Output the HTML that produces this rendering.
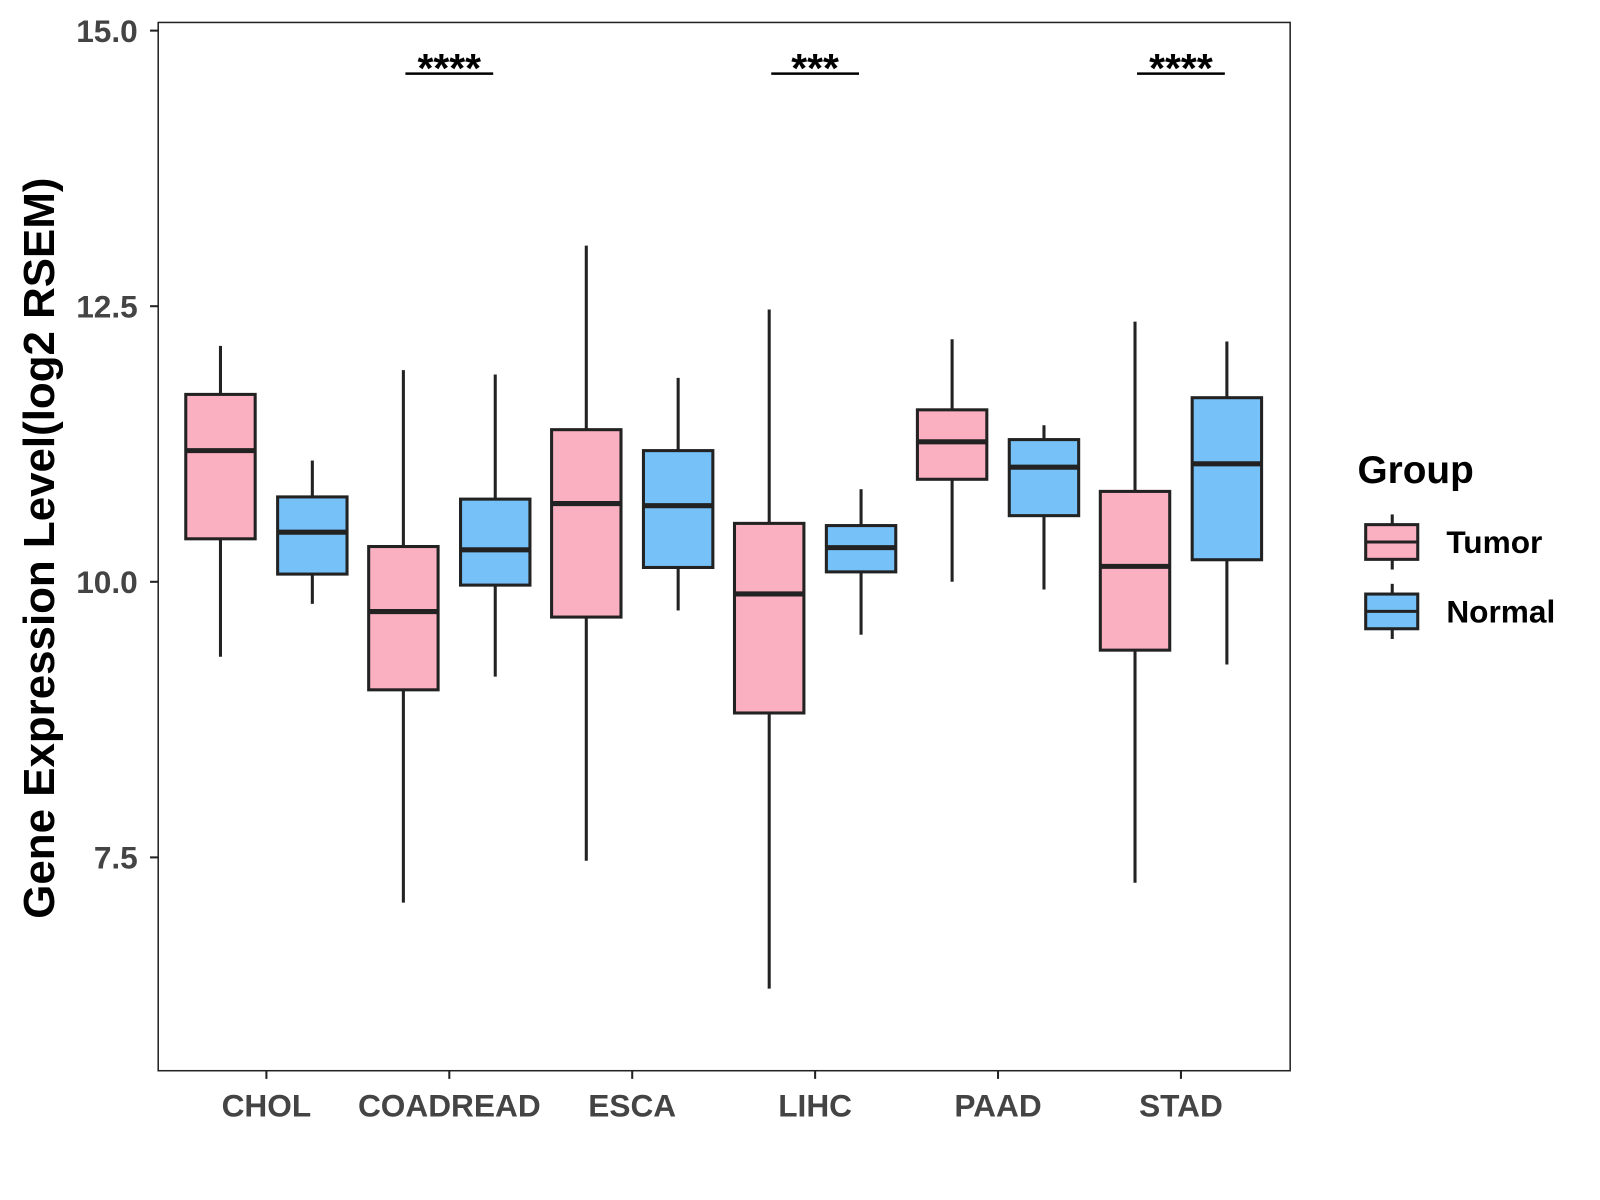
<!DOCTYPE html>
<html><head><meta charset="utf-8"><style>
html,body{margin:0;padding:0;background:#fff;}
svg{display:block;font-family:"Liberation Sans",Arial,sans-serif;}
</style></head><body>
<svg id="chart" width="1600" height="1200" viewBox="0 0 1600 1200">
<g id="root" transform="scale(1.0207)"></g>
</svg>
<script>
const categories = ["CHOL","COADREAD","ESCA","LIHC","PAAD","STAD"];
const groups = ["Tumor","Normal"];
// [lowWhisker, Q1, median, Q3, highWhisker]
const tumorStats = [
  [9.32,10.39,11.19,11.70,12.14],
  [7.09,9.02,9.73,10.32,11.92],
  [7.47,9.68,10.71,11.38,13.05],
  [6.31,8.81,9.89,10.53,12.47],
  [10.0,10.93,11.27,11.56,12.20],
  [7.27,9.38,10.14,10.82,12.36]
];
const normalStats = [
  [9.80,10.07,10.45,10.77,11.10],
  [9.14,9.97,10.29,10.75,11.88],
  [9.74,10.13,10.69,11.19,11.85],
  [9.52,10.09,10.31,10.51,10.84],
  [9.93,10.60,11.04,11.29,11.42],
  [9.25,10.20,11.07,11.67,12.18]
];
const yTicks = [7.5,10.0,12.5,15.0];
const yTickLabels = ["7.5","10.0","12.5","15.0"];
const sigCategories = ["COADREAD","LIHC","STAD"];
const sigLabels = ["****","***","****"];
const sigLevel = 14.61;

const NS="http://www.w3.org/2000/svg";
const root=document.getElementById('root');
const L=155,R=1264,T=22,B=1049;
function y(v){return 30+(15-v)*108;}
function x(i){return 261+i*179.2;}
function el(tag,attrs,parent){const e=document.createElementNS(NS,tag);for(const k in attrs)e.setAttribute(k,attrs[k]);(parent||root).appendChild(e);return e;}

const panel=el('rect',{x:L,y:T,width:R-L,height:B-T,fill:'#fff',stroke:'#222','stroke-width':1.5});



yTicks.forEach((t,i)=>{
  const tk=el('line',{x1:L-8,x2:L,y1:y(t),y2:y(t),stroke:'#222','stroke-width':2});
  
  
  const tx=el('text',{x:L-20,y:y(t)+11,'text-anchor':'end','font-size':31,'font-weight':'bold',fill:'#444'});
  tx.textContent=yTickLabels[i];
  
  
});
categories.forEach((c,i)=>{
  const tk=el('line',{x1:x(i),x2:x(i),y1:B,y2:B+8,stroke:'#222','stroke-width':2});
  
  
  const tx=el('text',{x:x(i),y:B+45,'text-anchor':'middle','font-size':31,'font-weight':'bold',fill:'#444'});
  tx.textContent=c;
  
  
});

const yt=el('text',{transform:'translate(53,537) rotate(-90)','text-anchor':'middle','font-size':43,'font-weight':'bold',fill:'#000'});
yt.textContent='Gene Expression Level(log2 RSEM)';



function drawBox(cx,s,fill,name){
  const g=el('g',{});
  
  
  const w=34;
  el('line',{x1:cx,x2:cx,y1:y(s[4]),y2:y(s[3]),stroke:'#222','stroke-width':3},g);
  el('line',{x1:cx,x2:cx,y1:y(s[1]),y2:y(s[0]),stroke:'#222','stroke-width':3},g);
  el('rect',{x:cx-w,y:y(s[3]),width:2*w,height:y(s[1])-y(s[3]),fill:fill,stroke:'#222','stroke-width':3},g);
  el('line',{x1:cx-w,x2:cx+w,y1:y(s[2]),y2:y(s[2]),stroke:'#222','stroke-width':5},g);
}
categories.forEach((c,i)=>{
  drawBox(x(i)-45,tumorStats[i],'#FBB0C1','box-tumor-'+c.toLowerCase());
  drawBox(x(i)+45,normalStats[i],'#76C1F8','box-normal-'+c.toLowerCase());
});

sigCategories.forEach((c,k)=>{
  const i=categories.indexOf(c);
  const ln=el('line',{x1:x(i)-43,x2:x(i)+43,y1:y(sigLevel),y2:y(sigLevel),stroke:'#000','stroke-width':2.5});
  
  
  const tx=el('text',{x:x(i),y:y(sigLevel)+8,'text-anchor':'middle','font-size':40,'font-weight':'bold',fill:'#000'});
  tx.textContent=sigLabels[k];
  
  
});

const lg=el('g',{});


const lt=el('text',{x:1330,y:473,'font-size':38,'font-weight':'bold',fill:'#000'},lg);
lt.textContent='Group';
[['#FBB0C1',514,'Tumor'],['#76C1F8',582,'Normal']].forEach(([f,top,lab])=>{
  const e=el('g',{},lg);
  
  
  el('line',{x1:1364,x2:1364,y1:top-10,y2:top+44,stroke:'#222','stroke-width':3},e);
  el('rect',{x:1338,y:top,width:51,height:34,fill:f,stroke:'#222','stroke-width':3},e);
  el('line',{x1:1338,x2:1389,y1:top+17,y2:top+17,stroke:'#222','stroke-width':3},e);
  const t=el('text',{x:1417,y:top+28,'font-size':31,'font-weight':'bold',fill:'#000'},e);
  t.textContent=lab;
});
</script>
</body></html>
